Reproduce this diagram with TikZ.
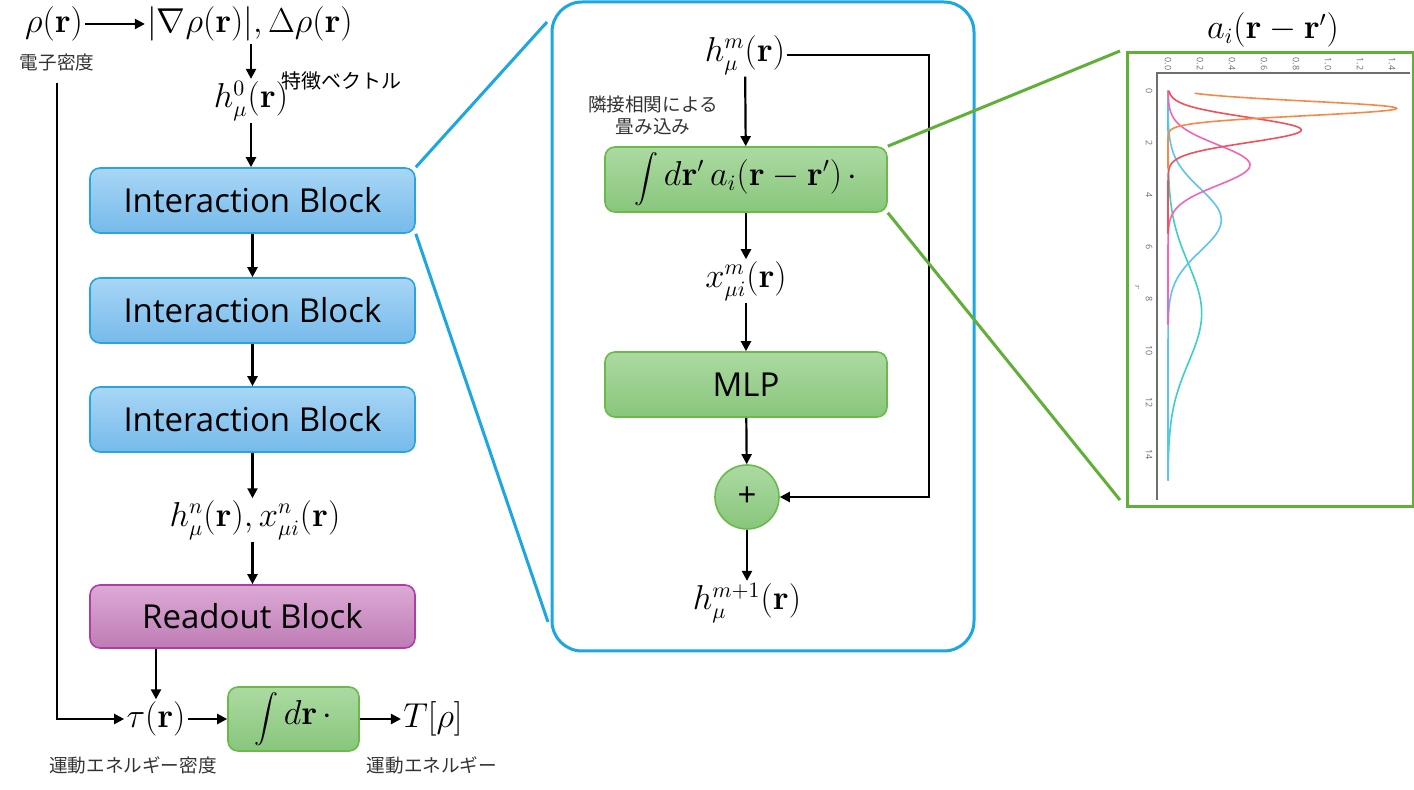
\documentclass[tikz,border=0pt]{standalone}
\usepackage[no-math]{fontspec}
\usepackage{amsmath}
\usetikzlibrary{arrows.meta,calc}
\newfontfamily\blkfont{Open Sans}
\newfontfamily\jpfont{Noto Sans CJK JP}
\newcommand{\bigint}{{\fontsize{12.5}{14}\selectfont$\displaystyle\int$}}
\definecolor{panelC}{RGB}{29,166,224}
\definecolor{ibTop}{RGB}{168,214,246}
\definecolor{ibBot}{RGB}{118,186,234}
\definecolor{ibLine}{RGB}{40,165,222}
\definecolor{roTop}{RGB}{220,170,214}
\definecolor{roBot}{RGB}{190,124,180}
\definecolor{roLine}{RGB}{176,60,168}
\definecolor{grTop}{RGB}{172,218,162}
\definecolor{grBot}{RGB}{136,198,124}
\definecolor{grLine}{RGB}{106,186,74}
\definecolor{zoomG}{RGB}{96,176,56}
\definecolor{axG}{RGB}{110,110,110}
\definecolor{cOr}{RGB}{244,137,74}
\definecolor{cRe}{RGB}{240,80,90}
\definecolor{cPi}{RGB}{245,100,180}
\definecolor{cBl}{RGB}{92,196,238}
\definecolor{cTe}{RGB}{60,207,196}
\begin{document}
\begin{tikzpicture}[x=0.5pt,y=-0.5pt,
  ar/.style={-{Triangle[length=5pt,width=5pt]}, line width=1.1pt},
  mth/.style={font=\fontsize{16}{19}\selectfont, inner sep=1pt},
  jp/.style={font=\jpfont\fontsize{9.3}{11}\selectfont, text=black!80, inner sep=1pt},
  boxbase/.style={line width=0.8pt, rounded corners=5pt, font=\blkfont\fontsize{16.5}{19}\selectfont, inner sep=1pt},
  iblock/.style={boxbase, draw=ibLine, top color=ibTop, bottom color=ibBot, minimum width=162.5pt, minimum height=32.5pt},
  rblock/.style={boxbase, draw=roLine, top color=roTop, bottom color=roBot, minimum width=162.5pt, minimum height=31.5pt},
  gblock/.style={boxbase, draw=grLine, top color=grTop, bottom color=grBot, minimum width=141pt, minimum height=32.5pt},
  tick/.style={font=\blkfont\fontsize{4.5}{5}\selectfont, text=axG, inner sep=0pt, rotate=-90},
  curve/.style={line width=0.8pt},
]
\useasboundingbox (0,0) rectangle (1414,790);

% ---------------- left column ----------------
\node[mth] (rho) at (54,24) {$\rho(\mathbf{r})$};
\node[mth] (grad) at (250,24) {$|\nabla\rho(\mathbf{r})|,\Delta\rho(\mathbf{r})$};
\node[jp] (den) at (57,62) {電子密度};
\node[mth] (h0) at (251,101) {$h_\mu^0(\mathbf{r})$};
\node[font=\jpfont\fontsize{10}{12}\selectfont, inner sep=1pt] (feat) at (341,81) {特徴ベクトル};

\node[iblock] (ib1) at (252.5,200.5) {Interaction Block};
\node[iblock] (ib2) at (252.5,310.5) {Interaction Block};
\node[iblock] (ib3) at (252.5,419.5) {Interaction Block};
\node[mth] (hn) at (255,520) {$h_\mu^n(\mathbf{r}),x_{\mu i}^n(\mathbf{r})$};
\node[rblock] (ro) at (252.5,616.5) {Readout Block};

\node[mth] (tau) at (156,719) {$\tau(\mathbf{r})$};
\node[gblock, minimum width=65.5pt, minimum height=32pt, font=\fontsize{16}{19}\selectfont] (intb) at (293.5,719) {\bigint\,$d\mathbf{r}\,\cdot$};
\node[mth] (T) at (433,719) {$T[\rho]$};
\node[jp] (tauL) at (133,765) {運動エネルギー密度};
\node[jp] (TL) at (432,765) {運動エネルギー};

\draw[ar] (rho) -- (grad);
\draw[ar] (grad.south -| h0) -- (h0.north);
\draw[ar] (h0.south) -- (h0 |- ib1.north);
\draw[ar] (ib1) -- (ib2);
\draw[ar] (ib2) -- (ib3);
\draw[ar] (ib3.south) -- (ib3 |- hn.north);
\draw[ar] (ro |- hn.south) -- (ro.north);
\draw[ar] (tau |- ro.south) -- (tau.north);
\draw[ar] ([yshift=-5pt]den.south) |- (tau.west);
\draw[ar] (tau) -- (intb);
\draw[ar] (intb) -- (T);

% ---------------- middle panel ----------------
\node[draw=panelC, line width=1.5pt, rounded corners=15pt, minimum width=211pt, minimum height=324.5pt, inner sep=0pt] (panel) at (763,326.5) {};
\coordinate (zt) at (547,22);
\coordinate (zb) at (548,622);
\draw[panelC, line width=1.5pt] (ib1.north east) -- (zt);
\draw[panelC, line width=1.5pt] (ib1.south east) -- (zb);

\node[mth] (hm) at (745,55) {$h_\mu^m(\mathbf{r})$};
\node[jp, align=center, font=\jpfont\fontsize{9.3}{11}\selectfont] (convL) at (653,115) {隣接相関による\\畳み込み};
\node[gblock, font=\fontsize{16}{19}\selectfont] (conv) at (746,179.5) {\bigint\,$d\mathbf{r}'\,a_i(\mathbf{r}-\mathbf{r}')\,\cdot$};
\node[mth] (xm) at (746,281) {$x_{\mu i}^m(\mathbf{r})$};
\node[gblock] (mlp) at (746,384.5) {MLP};
\node[boxbase, draw=grLine, top color=grTop, bottom color=grBot, circle, minimum size=32pt, inner sep=0pt] (plus) at (747,497) {+};
\node[mth] (hm1) at (747,603) {$h_\mu^{m+1}(\mathbf{r})$};
\coordinate (fb) at (929,0);

\draw[ar] (hm) -- (conv);
\draw[ar] (conv) -- (xm);
\draw[ar] (xm) -- (mlp);
\draw[ar] (mlp) -- (plus);
\draw[ar] (plus) -- (hm1);
\draw[ar] (hm.east) -| (fb |- plus.east) -- (plus.east);

% ---------------- right panel ----------------
\node[mth] (ailab) at (1273,30) {$a_i(\mathbf{r}-\mathbf{r}')$};
\node[draw=zoomG, line width=1.5pt, minimum width=143pt, minimum height=227pt, inner sep=0pt] (plotbox) at (1270,280) {};
\coordinate (gt) at (1120,51);
\coordinate (gb) at (1120,500);
\draw[zoomG, line width=1.5pt] (conv.north east) -- (gt);
\draw[zoomG, line width=1.5pt] (conv.south east) -- (gb);

% axes
\draw[axG, line width=0.7pt] (1157,500) -- (1157,73) -- (1410,73);
\foreach \v/\t in {0/0.0,0.2/0.2,0.4/0.4,0.6/0.6,0.8/0.8,1.0/1.0,1.2/1.2,1.4/1.4}
  \node[tick] at ({1168+160*\v},64) {\t};
\foreach \r in {0,2,4,6,8,10,12,14}
  \node[tick] at (1149,{90.7+26*\r}) {\r};
\node[tick, font=\itshape\fontsize{4.5}{5}\selectfont] at (1137,287) {r};

% curves
\draw[cTe, curve] plot[domain=0:15, samples=120, smooth] ({1168+64/1.9*exp(max(-0.5*(\x-8.56)*(\x-8.56)/(1.9*1.9),-9))}, {90.7+26*\x});
\draw[cBl, curve] plot[domain=0:15, samples=120, smooth] ({1168+64/1.2*exp(max(-0.5*(\x-4.97)*(\x-4.97)/(1.2*1.2),-9))}, {90.7+26*\x});
\draw[cPi, curve] plot[domain=0:9, samples=100, smooth] ({1168+64/0.78*exp(max(-0.5*(\x-2.86)*(\x-2.86)/(0.78*0.78),-9))}, {90.7+26*\x});
\draw[cRe, curve] plot[domain=0:5.5, samples=100, smooth] ({1168+64/0.48*exp(max(-0.5*(\x-1.51)*(\x-1.51)/(0.48*0.48),-9))}, {90.7+26*\x});
\draw[cOr, curve] plot[domain=0.1:3, samples=100, smooth] ({1168+64/0.28*exp(max(-0.5*(\x-0.68)*(\x-0.68)/(0.28*0.28),-9))}, {90.7+26*\x});
\end{tikzpicture}
\end{document}
